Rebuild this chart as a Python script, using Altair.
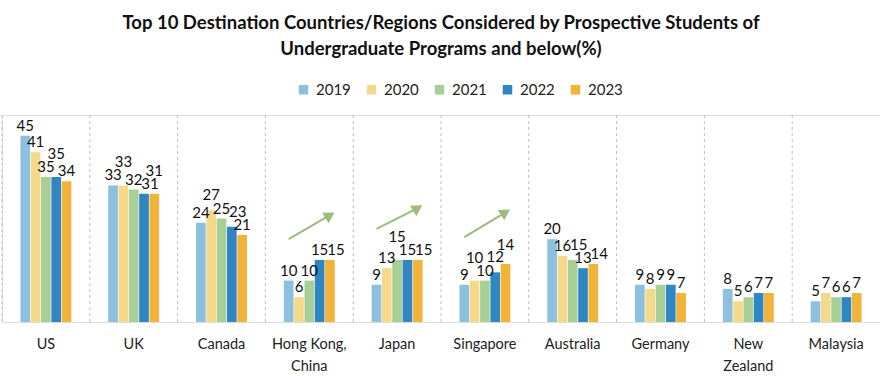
import altair as alt
import pandas as pd

countries = ["US", "UK", "Canada", "Hong Kong, China", "Japan", "Singapore",
             "Australia", "Germany", "New Zealand", "Malaysia"]
years = ["2019", "2020", "2021", "2022", "2023"]
v2019 = [45, 33, 24, 10, 9, 9, 20, 9, 8, 5]
v2020 = [41, 33, 27, 6, 13, 10, 16, 8, 5, 7]
v2021 = [35, 32, 25, 10, 15, 10, 15, 9, 6, 6]
v2022 = [35, 31, 23, 15, 15, 12, 13, 9, 7, 6]
v2023 = [34, 31, 21, 15, 15, 14, 14, 7, 7, 7]
colors = ["#8DBFDF", "#F5D98A", "#A8CF95", "#2F86C3", "#F2B33A"]

# trend arrows (annotation): country, start/end year, start/end value
arrow_countries = ["Hong Kong, China", "Japan", "Singapore"]
arrow_start = [20, 22.5, 20.5]
arrow_end = [25.8, 27.5, 26.5]

FONT = "Lato"
W, H = 878, 207
YMAX = 50
LABEL_SIZE = 15

series = [v2019, v2020, v2021, v2022, v2023]

# --- label collision avoidance (like spreadsheet data labels) ---
# approximate geometry used only to pick small nudges of the value labels
band_px = W / len(countries) * 0.58
step_px = band_px / (len(years) - 0.06)
bar_px = step_px * 0.94
unit_px = H / YMAX
digit_px = 0.57 * LABEL_SIZE
text_h = 10.5
cands = [(dx, up) for dx in (-6, -3, 0, 3, 6) for up in (0, 5, 9, 13)] + [(0, 26)]


def cost(c):
    dx, up = c
    return abs(dx) + up * 0.55 + (10 if up == 26 else 0)


cands.sort(key=cost)


def hits_bar(i, cx, cy, w, vals):
    for j, vj in enumerate(vals):
        if j == i:
            continue
        bx = j * step_px
        if abs(cx - bx) < (w + bar_px) / 2 - 4 and cy + 2 < vj * unit_px - 3:
            return True
    return False


def place(vals):
    n = len(vals)
    best = [float("inf"), None]

    def rec(i, placed, total, choice):
        if total >= best[0]:
            return
        if i == n:
            best[0], best[1] = total, list(choice)
            return
        v = vals[i]
        w = digit_px * len(str(v))
        for c in cands:
            cx = i * step_px + c[0]
            cy = v * unit_px + c[1]
            if hits_bar(i, cx, cy, w, vals):
                continue
            if any(abs(cx - px) < (w + pw) / 2 - 1 and abs(cy - py) < text_h
                   for (px, py, pw) in placed):
                continue
            rec(i + 1, placed + [(cx, cy, w)], total + cost(c), choice + [c])

    rec(0, [], 0, [])
    return best[1] or [(0, 0)] * n


rows = []
for ci, c in enumerate(countries):
    vals = [s[ci] for s in series]
    nudges = place(vals)
    for y, v, (ndx, nup) in zip(years, vals, nudges):
        rows.append({"country": c, "year": y, "value": v, "ndx": ndx, "nup": nup})
df = pd.DataFrame(rows)

arows = []
for c, s, e in zip(arrow_countries, arrow_start, arrow_end):
    arows.append({"country": c, "year": "2019", "value": s, "end": 0})
    arows.append({"country": c, "year": "2023", "value": e, "end": 1})
adf = pd.DataFrame(arows)

x = alt.X("country:N", sort=countries,
          scale=alt.Scale(domain=countries, paddingInner=0.42, paddingOuter=0.21),
          axis=alt.Axis(title=None, labelAngle=0, domain=False, ticks=False,
                        labelFontSize=14.5, labelColor="#222", labelFont=FONT,
                        labelPadding=15, labelLineHeight=22, labelLimit=300,
                        labelOverlap=False,
                        labelExpr="datum.value == 'Hong Kong, China' ? ['Hong Kong,', 'China'] : datum.value == 'New Zealand' ? ['New', 'Zealand'] : datum.value"))
xo = alt.XOffset("year:N", sort=years,
                 scale=alt.Scale(domain=years, paddingInner=0.06, paddingOuter=0))
y = alt.Y("value:Q", scale=alt.Scale(domain=[0, YMAX], nice=False), axis=None)

base = alt.Chart(df)

seps = alt.Chart(pd.DataFrame({"country": countries})).mark_rule(
    color="#BDBDBD", strokeDash=[3, 3], strokeWidth=1
).encode(
    x=alt.X("country:N", sort=countries, bandPosition=0, axis=None,
            scale=alt.Scale(domain=countries, paddingInner=0, paddingOuter=0)),
    y=alt.value(0), y2=alt.value(H)
)

bars = base.mark_bar().encode(
    x=x, xOffset=xo, y=y,
    color=alt.Color("year:N", sort=years,
                    scale=alt.Scale(domain=years, range=colors),
                    legend=alt.Legend(title=None, orient="none", direction="horizontal",
                                      legendX=294, legendY=-33, symbolType="square",
                                      symbolSize=90, labelFontSize=15, labelFont=FONT,
                                      labelColor="#222", columnPadding=13, labelOffset=5,
                                      padding=0, symbolStrokeWidth=0))
)

label_layers = []
for ndx, nup in sorted(set(zip(df["ndx"], df["nup"]))):
    label_layers.append(
        base.transform_filter(f"datum.ndx == {ndx} && datum.nup == {nup}")
        .mark_text(baseline="bottom", dx=int(ndx), dy=-2 - int(nup), fontSize=LABEL_SIZE,
                   font=FONT, color="#111")
        .encode(x=x, xOffset=xo, y=y, text="value:Q")
    )

aline = alt.Chart(adf).mark_line(color="#9BBB7F", strokeWidth=2).encode(
    x=x, xOffset=xo, y=y, detail="country:N"
)
ahead = alt.Chart(adf).transform_filter("datum.end == 1").mark_point(
    shape="triangle-up", filled=True, opacity=1, color="#9BBB7F", size=150, angle=58
).encode(x=x, xOffset=xo, y=y)

main = alt.layer(bars, *label_layers, aline, ahead)

chart = alt.layer(seps, main).resolve_scale(x="independent").properties(
    width=W, height=H,
    title=alt.TitleParams(
        ["Top 10 Destination Countries/Regions Considered by Prospective Students of",
         "Undergraduate Programs and below(%)"],
        fontSize=18.5, font=FONT, fontWeight="bold", color="#111",
        anchor="middle", offset=24, lineHeight=26),
    autosize=alt.AutoSizeParams(type="none"),
    padding={"left": 2, "top": 115, "right": 0, "bottom": 54},
).configure_view(stroke=None).configure(background="white")

chart.save("out.html", embed_options={"renderer": "svg", "actions": False})
